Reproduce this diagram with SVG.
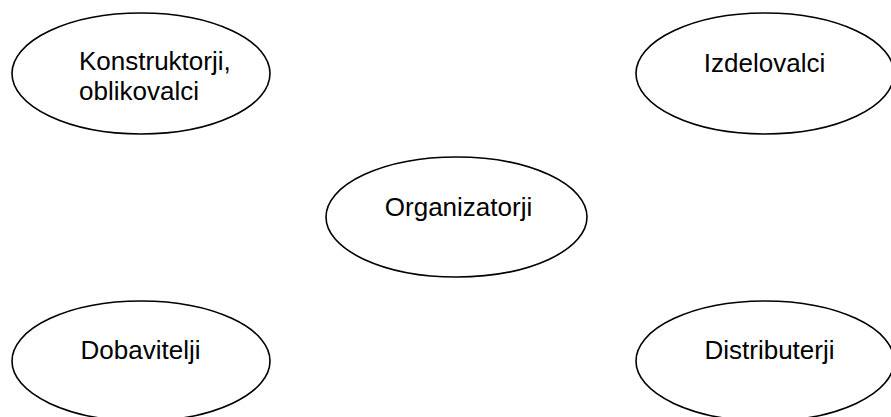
<svg xmlns="http://www.w3.org/2000/svg" width="891" height="417" viewBox="0 0 891 417">
  <style>
    .node ellipse { fill: #ffffff; stroke: #000000; stroke-width: 1.6; }
    .node text { font-family: "Liberation Sans", Arial, sans-serif; font-size: 26px; fill: #000000; }
    .mid { text-anchor: middle; }
  </style>
  <rect width="891" height="417" fill="#ffffff"/>
  <g id="connectors"></g>
  <g id="konstruktorji" class="node">
    <ellipse cx="141" cy="73.5" rx="129" ry="60.5"/>
    <text x="79" y="70">Konstruktorji,</text>
    <text x="79" y="100">oblikovalci</text>
  </g>
  <g id="izdelovalci" class="node">
    <ellipse cx="765" cy="73.5" rx="129" ry="60.5"/>
    <text class="mid" x="764.5" y="72">Izdelovalci</text>
  </g>
  <g id="organizatorji" class="node">
    <ellipse cx="456.5" cy="217" rx="130.5" ry="60"/>
    <text class="mid" x="458.5" y="216">Organizatorji</text>
  </g>
  <g id="dobavitelji" class="node">
    <ellipse cx="141" cy="361" rx="129" ry="60"/>
    <text class="mid" x="140.5" y="359">Dobavitelji</text>
  </g>
  <g id="distributerji" class="node">
    <ellipse cx="765" cy="361" rx="129" ry="60"/>
    <text class="mid" x="769.5" y="359">Distributerji</text>
  </g>
</svg>
